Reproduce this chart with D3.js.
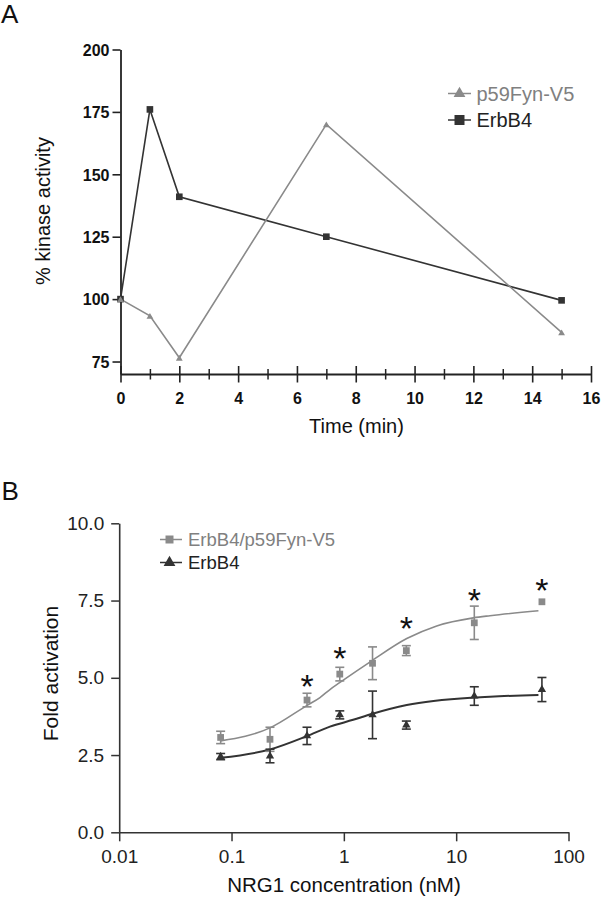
<!DOCTYPE html>
<html><head><meta charset="utf-8">
<script src="https://cdn.jsdelivr.net/npm/d3@7"></script>
<style>body{margin:0;background:#fff}svg{display:block}text{font-family:"Liberation Sans",Arial,sans-serif}</style>
</head><body><svg id="c" width="603" height="900"></svg>
<script>
// ---------- Panel A data ----------
const timeMin = [0, 1, 2, 7, 15];
const erbB4Kinase = [100, 176, 141, 125, 99.5];
const fynKinase = [100, 93.3, 76.5, 170, 86.7];
const aYTicks = [75, 100, 125, 150, 175, 200];
const aXTicks = [0, 2, 4, 6, 8, 10, 12, 14, 16];
const aXMinor = [1, 3, 5, 7, 9, 11, 13, 15];
const aLegend = ["p59Fyn-V5", "ErbB4"];

// ---------- Panel B data ----------
const nrg1 = [0.08, 0.22, 0.47, 0.92, 1.8, 3.6, 14.5, 58];
const comboMean = [3.07, 3.01, 4.28, 5.12, 5.47, 5.88, 6.78, 7.46];
const comboErr  = [0.20, 0.39, 0.22, 0.22, 0.53, 0.16, 0.54, 0];
const erbMean   = [2.45, 2.47, 3.12, 3.80, 3.80, 3.47, 4.41, 4.62];
const erbErr    = [0.10, 0.22, 0.28, 0.13, 0.77, 0.13, 0.30, 0.39];
const comboFitX = [0.08, 0.22, 0.467, 0.613, 0.752, 0.924, 1.77, 3.63, 6.71, 14.2, 20, 54];
const comboFitY = [2.96, 3.38, 4.10, 4.36, 4.62, 4.85, 5.55, 6.27, 6.68, 6.94, 7.01, 7.17];
const erbFitX = [0.08, 0.22, 0.467, 0.752, 1.21, 1.77, 3.63, 14.2, 20, 54];
const erbFitY = [2.41, 2.68, 3.11, 3.42, 3.64, 3.83, 4.12, 4.36, 4.39, 4.44];
const starNrg = [0.47, 0.92, 3.6, 14.5, 58];
const starLevel = [4.98, 5.90, 6.87, 7.79, 8.11];
const bYTicks = [0, 2.5, 5, 7.5, 10];
const bXTicks = [0.01, 0.1, 1, 10, 100];
const bXLabels = ["0.01", "0.1", "1", "10", "100"];
const bLegend = ["ErbB4/p59Fyn-V5", "ErbB4"];

const GRAY = "#8a8a8a", DARK = "#333333", AX = "#222";
const svg = d3.select("#c");

// ================= Panel A =================
const xA = d3.scaleLinear().domain([0, 16]).range([120.5, 591]);
const yA = d3.scaleLinear().domain([70, 200]).range([374, 49.5]);

svg.append("text").attr("x", 1).attr("y", 23).attr("font-size", 26).attr("fill", "#111").text("A");

const gAy = svg.append("g").attr("transform", `translate(${xA(0)},0)`)
  .call(d3.axisLeft(yA).tickValues(aYTicks).tickSize(8).tickSizeOuter(0).tickPadding(3));
gAy.select(".domain").attr("stroke", AX).attr("stroke-width", 1.8);
gAy.selectAll(".tick line").attr("stroke", AX).attr("stroke-width", 1.6);
gAy.selectAll(".tick text").attr("font-size", 16).attr("font-weight", "bold").attr("fill", "#111").attr("dy", "0.36em");

const gAx = svg.append("g").attr("transform", `translate(0,${yA(70)})`)
  .call(d3.axisBottom(xA).tickValues(aXTicks).tickSize(8).tickSizeOuter(0));
gAx.select(".domain").attr("stroke", AX).attr("stroke-width", 1.8);
gAx.selectAll(".tick line").attr("y1", -8).attr("y2", 8.5).attr("stroke", AX).attr("stroke-width", 1.6);
gAx.selectAll(".tick text").attr("y", 30).attr("dy", 0).attr("font-size", 16).attr("font-weight", "bold").attr("fill", "#111");
const gAxm = svg.append("g").attr("transform", `translate(0,${yA(70)})`)
  .call(d3.axisBottom(xA).tickValues(aXMinor).tickSize(5).tickFormat(""));
gAxm.select(".domain").remove();
gAxm.selectAll(".tick line").attr("y1", -5).attr("y2", 5.5).attr("stroke", AX).attr("stroke-width", 1.5);

svg.append("text").attr("x", 356.5).attr("y", 433).attr("text-anchor", "middle").attr("font-size", 20).attr("fill", "#111").text("Time (min)");
svg.append("text").attr("transform", "translate(50,211) rotate(-90)").attr("text-anchor", "middle").attr("font-size", 20).attr("fill", "#111").text("% kinase activity");

const lineA = d3.line().x(d => xA(d[0])).y(d => yA(d[1]));
const fynPts = timeMin.map((t, i) => [t, fynKinase[i]]);
const erbPts = timeMin.map((t, i) => [t, erbB4Kinase[i]]);
svg.append("path").datum(erbPts).attr("d", lineA).attr("fill", "none").attr("stroke", DARK).attr("stroke-width", 1.6);
svg.append("path").datum(fynPts).attr("d", lineA).attr("fill", "none").attr("stroke", GRAY).attr("stroke-width", 1.6);
const sqA = d3.symbol().type(d3.symbolSquare).size(44);
const trA = d3.symbol().type(d3.symbolTriangle).size(20);
svg.selectAll(".erbA").data(erbPts).join("path").attr("d", sqA).attr("fill", DARK)
  .attr("transform", d => `translate(${xA(d[0])},${yA(d[1])})`);
svg.selectAll(".fynA").data(fynPts).join("path").attr("d", trA).attr("fill", GRAY)
  .attr("transform", d => `translate(${xA(d[0])},${yA(d[1]) + 1})`);

const legA = svg.append("g");
[[GRAY, d3.symbol().type(d3.symbolTriangle).size(60)], [DARK, d3.symbol().type(d3.symbolSquare).size(100)]].forEach((s, i) => {
  const cy = 93.5 + i * 26.5;
  legA.append("line").attr("x1", 448).attr("x2", 471).attr("y1", cy).attr("y2", cy).attr("stroke", s[0]).attr("stroke-width", 1.5);
  legA.append("path").attr("d", s[1]).attr("fill", s[0]).attr("transform", `translate(459.5,${cy})`);
  legA.append("text").attr("x", 476.5).attr("y", cy + 7).attr("font-size", 20).attr("fill", i === 0 ? "#808080" : "#222").text(aLegend[i]);
});

// ================= Panel B =================
const xB = d3.scaleLog().domain([0.01, 100]).range([119.2, 568.5]);
const yB = d3.scaleLinear().domain([0, 10]).range([832.3, 523.3]);

svg.append("text").attr("x", 1.5).attr("y", 500).attr("font-size", 26).attr("fill", "#111").text("B");

const gBy = svg.append("g").attr("transform", `translate(${xB(0.01)},0)`)
  .call(d3.axisLeft(yB).tickValues(bYTicks).tickFormat(d3.format(".1f")).tickSize(8).tickSizeOuter(0).tickPadding(7));
gBy.select(".domain").attr("stroke", DARK).attr("stroke-width", 1.6);
gBy.selectAll(".tick line").attr("stroke", DARK).attr("stroke-width", 1.5);
gBy.selectAll(".tick text").attr("font-size", 19).attr("fill", "#222");

const gBx = svg.append("g").attr("transform", `translate(0,${yB(0)})`)
  .call(d3.axisBottom(xB).tickValues(bXTicks).tickFormat((d, i) => bXLabels[i]).tickSize(9).tickSizeOuter(0));
gBx.select(".domain").attr("stroke", DARK).attr("stroke-width", 1.6);
gBx.selectAll(".tick line").attr("stroke", DARK).attr("stroke-width", 1.5);
gBx.selectAll(".tick text").attr("y", 31).attr("dy", 0).attr("font-size", 19).attr("fill", "#222");

svg.append("text").attr("x", 344).attr("y", 892).attr("text-anchor", "middle").attr("font-size", 20.5).attr("fill", "#111").text("NRG1 concentration (nM)");
svg.append("text").attr("transform", "translate(57.5,673.5) rotate(-90)").attr("text-anchor", "middle").attr("font-size", 21).attr("fill", "#111").text("Fold activation");

const lineB = d3.line().x(d => xB(d[0])).y(d => yB(d[1])).curve(d3.curveMonotoneX);
svg.append("path").datum(comboFitX.map((x, i) => [x, comboFitY[i]])).attr("d", lineB)
  .attr("fill", "none").attr("stroke", GRAY).attr("stroke-width", 1.6);
svg.append("path").datum(erbFitX.map((x, i) => [x, erbFitY[i]])).attr("d", lineB)
  .attr("fill", "none").attr("stroke", DARK).attr("stroke-width", 2);

function errorBars(mean, err, color) {
  const g = svg.append("g").attr("stroke", color).attr("stroke-width", 1.6).attr("fill", "none");
  nrg1.forEach((x, i) => {
    if (!err[i]) return;
    const cx = xB(x), y1 = yB(mean[i] + err[i]), y2 = yB(mean[i] - err[i]);
    g.append("line").attr("x1", cx).attr("x2", cx).attr("y1", y1).attr("y2", y2);
    g.append("line").attr("x1", cx - 4.5).attr("x2", cx + 4.5).attr("y1", y1).attr("y2", y1);
    g.append("line").attr("x1", cx - 4.5).attr("x2", cx + 4.5).attr("y1", y2).attr("y2", y2);
  });
}
errorBars(comboMean, comboErr, GRAY);
errorBars(erbMean, erbErr, DARK);

const sqB = d3.symbol().type(d3.symbolSquare).size(46);
const trB = d3.symbol().type(d3.symbolTriangle).size(30);
svg.selectAll(".comboB").data(nrg1).join("path").attr("d", sqB).attr("fill", GRAY)
  .attr("transform", (d, i) => `translate(${xB(d)},${yB(comboMean[i])})`);
svg.selectAll(".erbB").data(nrg1).join("path").attr("d", trB).attr("fill", DARK)
  .attr("transform", (d, i) => `translate(${xB(d)},${yB(erbMean[i])})`);

svg.selectAll(".star").data(starNrg).join("text").attr("class", "star")
  .attr("x", d => xB(d)).attr("y", (d, i) => yB(starLevel[i]) + 20)
  .attr("text-anchor", "middle").attr("font-size", 34).attr("font-family", "DejaVu Sans").attr("fill", "#111").text("*");

const legB = svg.append("g");
[[GRAY, d3.symbol().type(d3.symbolSquare).size(64)], [DARK, d3.symbol().type(d3.symbolTriangle).size(60)]].forEach((s, i) => {
  const cy = 539.5 + i * 23;
  legB.append("line").attr("x1", 160).attr("x2", 182).attr("y1", cy).attr("y2", cy).attr("stroke", s[0]).attr("stroke-width", 1.5);
  legB.append("path").attr("d", s[1]).attr("fill", s[0]).attr("transform", `translate(169.5,${cy})`);
  legB.append("text").attr("x", 188).attr("y", cy + 6.5).attr("font-size", 18.5).attr("fill", i === 0 ? "#808080" : "#222").text(bLegend[i]);
});
</script></body></html>
